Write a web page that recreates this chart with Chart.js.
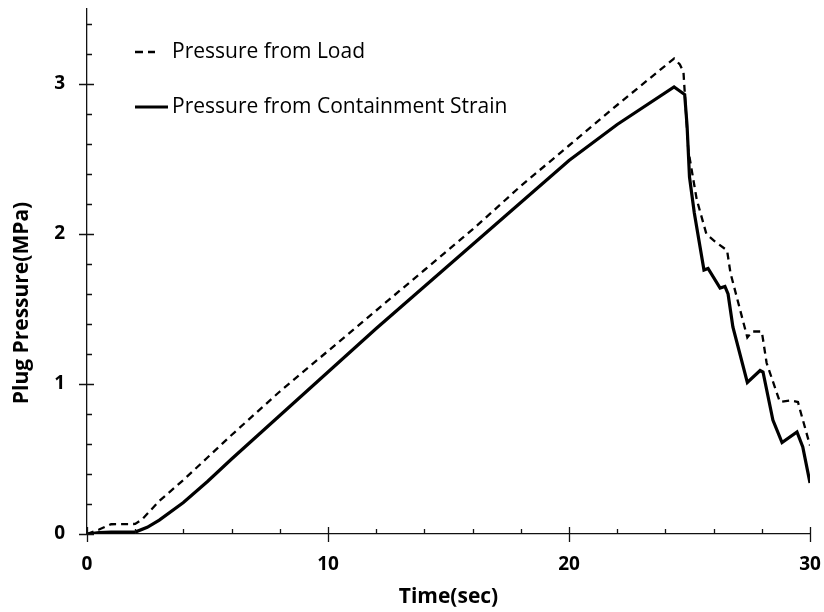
<!DOCTYPE html>
<html>
<head>
<meta charset="utf-8">
<script src="https://cdn.jsdelivr.net/npm/chart.js@4"></script>
<style>
    html, body { margin: 0; padding: 0; background: #fff; }
    #wrap { width: 824px; height: 612px; }
</style>
</head>
<body>
<div id="wrap"><canvas id="plugChart" width="824" height="612"></canvas></div>
<script>
// time (sec) and plug pressure (MPa)
const loadTime = [0, 0.5, 1.0, 2.0, 2.3, 3, 4, 5, 6, 8, 10, 12, 14, 16, 18, 20, 22, 24.36, 24.6, 24.75,
    24.95, 25.3, 25.7, 26.06, 26.56, 26.7, 27.4, 27.6, 28.0, 28.2, 28.75, 29.2, 29.5, 29.6, 30];
const loadPressure = [0, 0.03, 0.065, 0.067, 0.1, 0.22, 0.36, 0.51, 0.66, 0.95, 1.22, 1.49, 1.76, 2.03, 2.32, 2.59, 2.86, 3.17, 3.13, 3.08,
    2.56, 2.23, 2.0, 1.95, 1.89, 1.74, 1.31, 1.35, 1.35, 1.14, 0.88, 0.89, 0.88, 0.82, 0.59];

const strainTime = [0, 0.5, 1, 2, 2.5, 3, 4, 5, 6, 8, 10, 12, 14, 16, 18, 20, 22, 24.36, 24.8, 24.9,
    25.0, 25.2, 25.6, 25.77, 26.27, 26.47, 26.6, 26.8, 27.4, 27.93, 28.05, 28.46, 28.84, 29.46, 29.7, 30];
const strainPressure = [0, 0.01, 0.013, 0.013, 0.045, 0.093, 0.21, 0.35, 0.5, 0.79, 1.08, 1.37, 1.65, 1.93, 2.21, 2.49, 2.73, 2.98, 2.93, 2.72,
    2.38, 2.14, 1.76, 1.77, 1.64, 1.65, 1.6, 1.38, 1.01, 1.09, 1.08, 0.76, 0.61, 0.68, 0.58, 0.34];

const seriesNames = ['Pressure from Load', 'Pressure from Containment Strain'];
const xMajorTicks = [0, 10, 20, 30];
const yMajorTicks = [0, 1, 2, 3];

const FONT = '"Open Sans", "Liberation Sans", sans-serif';

function toPoints(xs, ys) {
    return xs.map((x, i) => ({ x: x, y: ys[i] }));
}

// axis tick marks: majors cross the axis, minors sit inside
const tickMarks = {
    id: 'tickMarks',
    afterDraw(chart) {
        const ctx = chart.ctx;
        const xs = chart.scales.x;
        const ys = chart.scales.y;
        const area = chart.chartArea;
        ctx.save();
        ctx.strokeStyle = '#111';
        ctx.lineWidth = 1.3;
        ctx.beginPath();
        for (let v = 0; v <= 30; v += 2) {
            const px = Math.round(xs.getPixelForValue(v)) + 0.5;
            if (xMajorTicks.includes(v)) {
                ctx.moveTo(px, area.bottom - 7);
                ctx.lineTo(px, area.bottom + 8);
            } else {
                ctx.moveTo(px, area.bottom - 5);
                ctx.lineTo(px, area.bottom);
            }
        }
        for (let k = 0; k <= 17; k++) {
            const v = k / 5;
            const py = Math.round(ys.getPixelForValue(v)) + 0.5;
            if (k % 5 === 0) {
                ctx.moveTo(area.left - 8, py);
                ctx.lineTo(area.left + 7, py);
            } else {
                ctx.moveTo(area.left, py);
                ctx.lineTo(area.left + 5, py);
            }
        }
        ctx.stroke();

        // axis titles
        ctx.fillStyle = '#000';
        ctx.font = 'bold 21px ' + FONT;
        ctx.textAlign = 'center';
        ctx.textBaseline = 'middle';
        ctx.fillText('Time(sec)', (area.left + area.right) / 2, 597);
        ctx.translate(22, 303);
        ctx.rotate(-Math.PI / 2);
        ctx.fillText('Plug Pressure(MPa)', 0, 0);
        ctx.restore();
    }
};

// legend in the upper left of the plot
const insideLegend = {
    id: 'insideLegend',
    afterDraw(chart) {
        const ctx = chart.ctx;
        ctx.save();
        ctx.strokeStyle = '#000';
        ctx.beginPath();
        ctx.lineWidth = 2.3;
        ctx.setLineDash([8, 5]);
        ctx.moveTo(135, 52);
        ctx.lineTo(155, 52);
        ctx.stroke();
        ctx.beginPath();
        ctx.setLineDash([]);
        ctx.lineWidth = 3.2;
        ctx.moveTo(135, 107);
        ctx.lineTo(168, 107);
        ctx.stroke();
        ctx.fillStyle = '#000';
        ctx.font = '21px ' + FONT;
        ctx.textBaseline = 'middle';
        ctx.fillText(seriesNames[0], 172, 52);
        ctx.fillText(seriesNames[1], 172, 107);
        ctx.restore();
    }
};

new Chart(document.getElementById('plugChart'), {
    type: 'line',
    data: {
        datasets: [{
            label: seriesNames[0],
            data: toPoints(loadTime, loadPressure),
            borderColor: '#000',
            borderWidth: 2.3,
            borderDash: [7, 5],
            pointRadius: 0,
            tension: 0
        }, {
            label: seriesNames[1],
            data: toPoints(strainTime, strainPressure),
            borderColor: '#000',
            borderWidth: 3.2,
            pointRadius: 0,
            tension: 0
        }]
    },
    options: {
        responsive: false,
        animation: false,
        layout: { padding: { top: 9, right: 14, left: 0, bottom: 0 } },
        plugins: {
            legend: { display: false },
            tooltip: { enabled: false }
        },
        scales: {
            x: {
                type: 'linear',
                min: 0,
                max: 30,
                afterFit(scale) {
                    scale.height = 78;
                    scale.paddingLeft = 0;
                    scale.paddingRight = 0;
                },
                grid: { display: false, drawTicks: false },
                border: { display: true, color: '#111', width: 1.3 },
                ticks: {
                    stepSize: 10,
                    padding: 19,
                    color: '#000',
                    font: { family: FONT, size: 19, weight: 'bold' }
                }
            },
            y: {
                min: 0,
                max: 3.5,
                afterFit(scale) {
                    scale.width = 87;
                    scale.paddingTop = 0;
                    scale.paddingBottom = 0;
                },
                grid: { display: false, drawTicks: false },
                border: { display: true, color: '#111', width: 1.3 },
                ticks: {
                    stepSize: 1,
                    padding: 22,
                    color: '#000',
                    font: { family: FONT, size: 19, weight: 'bold' },
                    callback: function (value) {
                        return yMajorTicks.includes(value) ? value : '';
                    }
                }
            }
        }
    },
    plugins: [tickMarks, insideLegend]
});
</script>
</body>
</html>
